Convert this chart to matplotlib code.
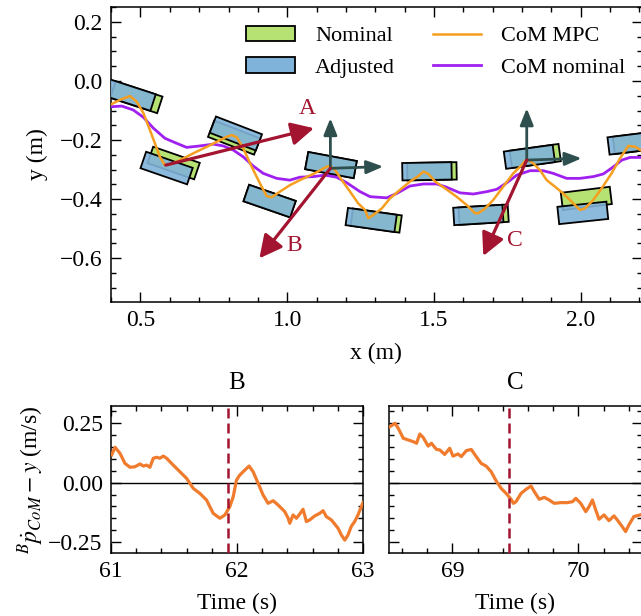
import numpy as np
import matplotlib
matplotlib.use("Agg")
import matplotlib.pyplot as plt
from matplotlib.patches import Rectangle, Patch
from matplotlib.lines import Line2D
from matplotlib.ticker import MultipleLocator

plt.rcParams['font.family'] = ['Liberation Serif', 'DejaVu Serif']
plt.rcParams['mathtext.fontset'] = 'stix'
plt.rcParams['font.size'] = 17

# ---------------- data ----------------
# footsteps (center x, center y, yaw deg)
nom_x = [0.486, 0.613, 0.819, 0.940, 1.149, 1.303, 1.493, 1.669, 1.845, 2.019, 2.196]
nom_y = [-0.055, -0.278, -0.192, -0.407, -0.285, -0.473, -0.306, -0.453, -0.254, -0.398, -0.208]
nom_ang = [-18, -19, -21, -19, -10.5, -8, 1, 3.5, 7.8, 7, 7]
adj_x = [0.463, 0.589, 0.825, 0.940, 1.149, 1.286, 1.476, 1.651, 1.825, 2.007, 2.178]
adj_y = [-0.047, -0.295, -0.178, -0.407, -0.285, -0.471, -0.306, -0.454, -0.257, -0.447, -0.210]
adj_ang = [-18, -19, -21, -19, -10.5, -8, 1, 3.5, 7.8, 6, 7]

com_mpc_x = [0.402, 0.430, 0.464, 0.487, 0.510, 0.532, 0.549, 0.566, 0.583, 0.606, 0.635, 0.680,
             0.726, 0.760, 0.794, 0.811, 0.828, 0.850, 0.879, 0.907, 0.930, 0.947, 0.975, 1.009,
             1.043, 1.089, 1.134, 1.146, 1.163, 1.186, 1.214, 1.242, 1.265, 1.276, 1.293, 1.322,
             1.350, 1.384, 1.418, 1.447, 1.464, 1.481, 1.504, 1.538, 1.577, 1.611, 1.640, 1.651,
             1.674, 1.702, 1.736, 1.770, 1.799, 1.816, 1.838, 1.861, 1.884, 1.912, 1.940, 1.969,
             1.997, 2.014, 2.043, 2.071, 2.105, 2.134, 2.162, 2.185, 2.210]
com_mpc_y = [-0.078, -0.064, -0.051, -0.070, -0.109, -0.166, -0.211, -0.257, -0.285, -0.281, -0.268, -0.245,
             -0.223, -0.206, -0.189, -0.183, -0.191, -0.228, -0.291, -0.347, -0.390, -0.394, -0.375, -0.353,
             -0.336, -0.315, -0.291, -0.287, -0.302, -0.336, -0.375, -0.415, -0.437, -0.465, -0.454, -0.432,
             -0.398, -0.369, -0.341, -0.322, -0.307, -0.315, -0.341, -0.364, -0.392, -0.420, -0.448, -0.448,
             -0.432, -0.403, -0.358, -0.313, -0.285, -0.264, -0.279, -0.302, -0.336, -0.358, -0.381, -0.409,
             -0.437, -0.432, -0.403, -0.364, -0.313, -0.262, -0.220, -0.223, -0.238]

com_nom_x = [0.402, 0.436, 0.475, 0.510, 0.544, 0.583, 0.618, 0.657, 0.703, 0.748, 0.782, 0.816,
             0.850, 0.884, 0.918, 0.964, 1.009, 1.043, 1.089, 1.129, 1.168, 1.203, 1.248, 1.282,
             1.339, 1.373, 1.418, 1.464, 1.509, 1.543, 1.588, 1.634, 1.680, 1.714, 1.748, 1.782,
             1.827, 1.872, 1.906, 1.952, 1.997, 2.043, 2.077, 2.111, 2.140, 2.168, 2.210]
com_nom_y = [-0.087, -0.085, -0.098, -0.123, -0.160, -0.194, -0.209, -0.225, -0.220, -0.214, -0.220, -0.234,
             -0.257, -0.288, -0.313, -0.330, -0.336, -0.326, -0.324, -0.319, -0.326, -0.345, -0.375, -0.392,
             -0.396, -0.381, -0.356, -0.349, -0.349, -0.360, -0.379, -0.383, -0.375, -0.367, -0.345, -0.319,
             -0.304, -0.304, -0.313, -0.330, -0.330, -0.324, -0.315, -0.291, -0.268, -0.259, -0.259]

# body frames (origin and axis tips)
frame_x0 = [1.147, 1.816]
frame_y0 = [-0.296, -0.268]
frame_fwd_x = [1.327, 2.003]
frame_fwd_y = [-0.290, -0.262]
frame_up_x = [1.147, 1.816]
frame_up_y = [-0.126, -0.0925]

# perturbation arrows
push_labels = ['A', 'B', 'C']
push_x0 = [0.586, 1.147, 1.816]
push_y0 = [-0.285, -0.296, -0.268]
push_x1 = [1.091, 0.905, 1.668]
push_y1 = [-0.160, -0.601, -0.593]
label_x = [1.068, 1.024, 1.774]
label_y = [-0.092, -0.556, -0.539]

# time series B
tB = [61.005, 61.032, 61.071, 61.111, 61.151, 61.190, 61.230, 61.256, 61.283, 61.309, 61.336, 61.362,
      61.388, 61.415, 61.441, 61.494, 61.547, 61.600, 61.653, 61.705, 61.758, 61.811, 61.864, 61.904,
      61.943, 61.970, 61.996, 62.022, 62.062, 62.096, 62.128, 62.168, 62.207, 62.247, 62.287, 62.326,
      62.379, 62.406, 62.419, 62.445, 62.472, 62.498, 62.524, 62.551, 62.577, 62.617, 62.657, 62.683,
      62.709, 62.749, 62.775, 62.802, 62.828, 62.855, 62.881, 62.908, 62.934, 62.960, 62.987, 63.000]
vB = [0.117, 0.149, 0.124, 0.081, 0.065, 0.067, 0.079, 0.070, 0.074, 0.065, 0.103, 0.107,
      0.103, 0.112, 0.103, 0.074, 0.046, 0.018, -0.024, -0.045, -0.073, -0.129, -0.150, -0.136,
      -0.101, -0.059, 0.011, 0.032, 0.053, 0.070, 0.046, -0.003, -0.052, -0.087, -0.076, -0.094,
      -0.122, -0.150, -0.171, -0.136, -0.150, -0.132, -0.112, -0.164, -0.157, -0.140, -0.129, -0.118,
      -0.143, -0.157, -0.174, -0.192, -0.220, -0.242, -0.220, -0.183, -0.164, -0.136, -0.101, -0.084]
eventB = 61.926

# time series C
tC = [68.505, 68.545, 68.571, 68.611, 68.650, 68.689, 68.716, 68.742, 68.768, 68.808, 68.834, 68.874,
      68.900, 68.939, 68.979, 69.005, 69.045, 69.071, 69.111, 69.150, 69.189, 69.229, 69.268, 69.308,
      69.347, 69.387, 69.426, 69.466, 69.484, 69.505, 69.545, 69.584, 69.624, 69.650, 69.689, 69.729,
      69.768, 69.808, 69.861, 69.913, 69.953, 69.979, 70.018, 70.058, 70.084, 70.111, 70.137, 70.163,
      70.203, 70.242, 70.282, 70.308, 70.347, 70.374, 70.400, 70.439, 70.487]
vC = [0.236, 0.250, 0.229, 0.187, 0.180, 0.173, 0.166, 0.205, 0.191, 0.154, 0.166, 0.140,
      0.138, 0.119, 0.145, 0.112, 0.121, 0.110, 0.135, 0.140, 0.110, 0.081, 0.070, 0.046,
      0.008, -0.024, -0.045, -0.070, -0.087, -0.080, -0.045, -0.028, -0.014, -0.038, -0.070, -0.062,
      -0.073, -0.087, -0.084, -0.084, -0.080, -0.066, -0.087, -0.122, -0.101, -0.073, -0.115, -0.154,
      -0.136, -0.160, -0.140, -0.157, -0.185, -0.206, -0.178, -0.143, -0.136]
eventC = 69.447

# ---------------- style ----------------
C_NOM = '#b6e173'
C_ADJ = '#80b3d9'
C_MPC = '#f59e1f'
C_CNOM = '#a020f0'
C_RED = '#a2142f'
C_TEAL = '#2f4f4f'
C_VEL = '#f07b2d'
FOOT_L, FOOT_W = 0.168, 0.059

W, H = 641, 616
fig = plt.figure(figsize=(W / 100, H / 100), dpi=100)


def fbox(l, r, t, b):
    return [l / W, 1 - b / H, (r - l) / W, (b - t) / H]


def style_axes(ax):
    ax.tick_params(which='both', direction='in', top=True, right=True, width=1.0,
                   labelsize=17)
    ax.tick_params(which='major', length=7, pad=6)
    ax.tick_params(which='minor', length=3.5)
    for s in ax.spines.values():
        s.set_linewidth(1.1)


ax = fig.add_axes(fbox(110.5, 642, 7, 302))
ax.set_xlim(0.3978, 2.2087)
ax.set_ylim(-0.749, 0.2508)
style_axes(ax)
ax.xaxis.set_major_locator(MultipleLocator(0.5))
ax.xaxis.set_minor_locator(MultipleLocator(0.1))
ax.yaxis.set_major_locator(MultipleLocator(0.2))
ax.yaxis.set_minor_locator(MultipleLocator(0.05))


def foot(cx, cy, ang, fc, alpha, z):
    r = Rectangle((cx - FOOT_L / 2, cy - FOOT_W / 2), FOOT_L, FOOT_W, angle=ang,
                  rotation_point='center', edgecolor='black', lw=1.3, zorder=z)
    r.set_facecolor(matplotlib.colors.to_rgba(fc, alpha))
    ax.add_patch(r)


for x, y, a in zip(nom_x, nom_y, nom_ang):
    foot(x, y, a, C_NOM, 1.0, 2)
for x, y, a in zip(adj_x, adj_y, adj_ang):
    foot(x, y, a, C_ADJ, 0.9, 3)

ax.plot(com_nom_x, com_nom_y, color=C_CNOM, lw=2.0, zorder=4)
ax.plot(com_mpc_x, com_mpc_y, color=C_MPC, lw=1.8, zorder=5)

for i in range(len(frame_x0)):
    for tx, ty in ((frame_fwd_x[i], frame_fwd_y[i]), (frame_up_x[i], frame_up_y[i])):
        ax.annotate('', xy=(tx, ty), xytext=(frame_x0[i], frame_y0[i]),
                    arrowprops=dict(arrowstyle='-|>,head_length=0.5,head_width=0.2',
                                    color=C_TEAL, lw=2.0, mutation_scale=20,
                                    shrinkA=0, shrinkB=0), zorder=6)

for i in range(len(push_labels)):
    ax.annotate('', xy=(push_x1[i], push_y1[i]), xytext=(push_x0[i], push_y0[i]),
                arrowprops=dict(arrowstyle='-|>,head_length=0.55,head_width=0.28',
                                color=C_RED, lw=2.3, mutation_scale=25,
                                shrinkA=0, shrinkB=0), zorder=7)
    ax.text(label_x[i], label_y[i], push_labels[i], color=C_RED, fontsize=17,
            ha='center', va='center', zorder=8)

ax.set_xlabel('x (m)', labelpad=8, fontsize=17)
ax.set_ylabel('y (m)', labelpad=8, fontsize=17)

handles = [Patch(facecolor=C_NOM, edgecolor='black', lw=1.3),
           Patch(facecolor=C_ADJ, edgecolor='black', lw=1.3),
           Line2D([], [], color=C_MPC, lw=1.8),
           Line2D([], [], color=C_CNOM, lw=2.0)]
labels = ['Nominal', 'Adjusted', 'CoM MPC', 'CoM nominal']
ax.legend(handles, labels, ncol=2, frameon=False, loc='upper right',
          bbox_to_anchor=(1.007, 1.004), handlelength=2.2, handletextpad=0.9,
          columnspacing=1.7, labelspacing=0.5, fontsize=16)

# ---------- bottom panels ----------
axB = fig.add_axes(fbox(111, 363, 406, 552.7))
axC = fig.add_axes(fbox(389.3, 641.5, 406, 552.7))
for a, t, v, ev, xl, title in ((axB, tB, vB, eventB, (61, 63), 'B'),
                               (axC, tC, vC, eventC, (68.5, 70.5), 'C')):
    a.axhline(0, color='black', lw=1.0, zorder=1)
    a.plot(t, v, color=C_VEL, lw=2.3, zorder=3)
    a.axvline(ev, color=C_RED, lw=1.8, ls=(0, (4, 2)), zorder=4)
    a.set_xlim(*xl)
    a.set_ylim(-0.295, 0.323)
    style_axes(a)
    a.xaxis.set_major_locator(MultipleLocator(1))
    a.xaxis.set_minor_locator(MultipleLocator(0.2))
    a.yaxis.set_major_locator(MultipleLocator(0.25))
    a.yaxis.set_minor_locator(MultipleLocator(0.05))
    a.set_title(title, fontsize=18, pad=12)
    a.set_xlabel('Time (s)', labelpad=8, fontsize=17)

axC.tick_params(labelleft=False)
axB.set_ylabel(r'$^{B}\dot{p}_{CoM} - y$ (m/s)', labelpad=2, fontsize=17)

fig.savefig('out.png', dpi=100)
